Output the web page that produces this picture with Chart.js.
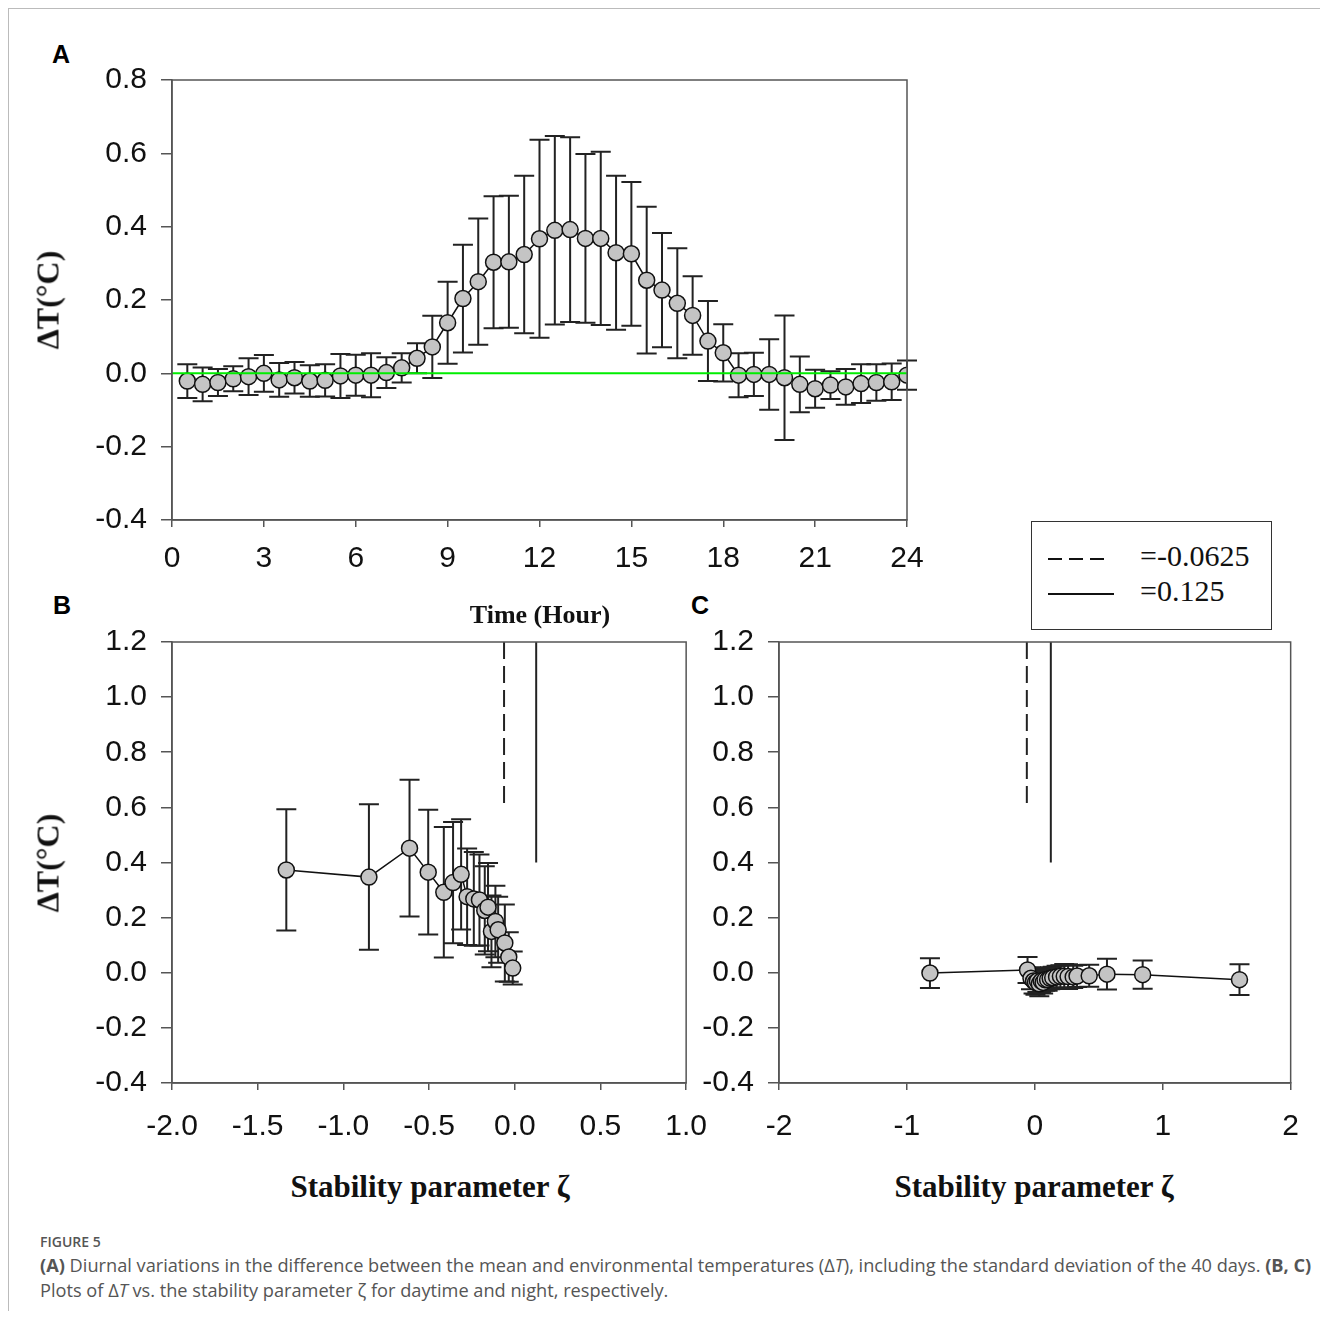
<!DOCTYPE html>
<html lang="en">
<head>
<meta charset="UTF-8">
<title>Figure 5</title>
<script src="https://cdn.jsdelivr.net/npm/chart.js"></script>
<style>
  body { margin: 0; background: #fff; width: 1320px; height: 1318px; position: relative; overflow: hidden; }
  .frame { position: absolute; left: 8px; top: 8px; width: 1320px; height: 1302px; border-top: 1.5px solid #bbb; border-left: 1.5px solid #bbb; }
  canvas { position: absolute; }
  .lbl { position: absolute; font-family: "Liberation Sans", Arial, sans-serif; font-weight: bold; font-size: 25px; color: #000; }
  .ttl { position: absolute; font-family: "Liberation Serif", "Times New Roman", serif; font-weight: bold; color: #111; white-space: nowrap; transform: translate(-50%, -50%); }
  .rot { transform: translate(-50%, -50%) rotate(-90deg); }
  .legend { position: absolute; left: 1031px; top: 521px; width: 239px; height: 107px; border: 1.5px solid #333; background: #fff; }
  .legend span { position: absolute; left: 108px; font-family: "Liberation Serif", "Times New Roman", serif; font-size: 30px; color: #111; }
  .caption { position: absolute; left: 40px; top: 1232px; width: 1280px; font-family: "Open Sans", "Noto Sans", sans-serif; color: #555; }
  .caption .fig { font-size: 14px; font-weight: 600; }
  .caption .txt { font-size: 18.2px; line-height: 25px; margin-top: 2px; white-space: nowrap; }
</style>
</head>
<body>
<div class="frame"></div>

<div class="lbl" style="left:52px; top:40px;">A</div>
<div class="lbl" style="left:53px; top:591px;">B</div>
<div class="lbl" style="left:691px; top:591px;">C</div>

<canvas id="chartA" width="880" height="542" style="left:60px; top:48px;"></canvas>
<canvas id="chartB" width="666" height="543" style="left:60px; top:610px;"></canvas>
<canvas id="chartC" width="628" height="543" style="left:690px; top:610px;"></canvas>

<div class="ttl rot" style="left:48px; top:300px; font-size:32px;">ΔT(°C)</div>
<div class="ttl rot" style="left:48px; top:863px; font-size:32px;">ΔT(°C)</div>
<div class="ttl" style="left:540px; top:615px; font-size:26px;">Time (Hour)</div>
<div class="ttl" style="left:430px; top:1187px; font-size:31px;">Stability parameter ζ</div>
<div class="ttl" style="left:1034px; top:1187px; font-size:31px;">Stability parameter ζ</div>

<div class="legend">
  <svg width="239" height="107" style="position:absolute; left:0; top:0;">
    <line x1="16" y1="37" x2="72" y2="37" stroke="#111" stroke-width="2" stroke-dasharray="14,7"/>
    <line x1="16" y1="72" x2="82" y2="72" stroke="#111" stroke-width="2"/>
  </svg>
  <span style="top:17px;">=-0.0625</span>
  <span style="top:52px;">=0.125</span>
</div>

<div class="caption">
  <div class="fig">FIGURE 5</div>
  <div class="txt"><b>(A)</b> Diurnal variations in the difference between the mean and environmental temperatures (Δ<i>T</i>), including the standard deviation of the 40 days. <b>(B, C)</b><br>Plots of Δ<i>T</i> vs. the stability parameter ζ for daytime and night, respectively.</div>
</div>

<script>
  // panel A: diurnal course, every half hour
  const hours = [0.5, 1, 1.5, 2, 2.5, 3, 3.5, 4, 4.5, 5, 5.5, 6, 6.5, 7, 7.5, 8,
    8.5, 9, 9.5, 10, 10.5, 11, 11.5, 12, 12.5, 13, 13.5, 14, 14.5, 15, 15.5, 16,
    16.5, 17, 17.5, 18, 18.5, 19, 19.5, 20, 20.5, 21, 21.5, 22, 22.5, 23, 23.5, 24];
  const dtA = [-0.021, -0.030, -0.025, -0.015, -0.009, 0.000, -0.018, -0.012, -0.021, -0.019, -0.007, -0.005,
    -0.005, 0.002, 0.015, 0.041, 0.072, 0.138, 0.204, 0.250, 0.303, 0.304, 0.324, 0.367,
    0.390, 0.392, 0.368, 0.368, 0.329, 0.326, 0.254, 0.227, 0.191, 0.158, 0.088, 0.056,
    -0.005, -0.003, -0.003, -0.012, -0.030, -0.042, -0.032, -0.037, -0.028, -0.025, -0.023, -0.005];
  const sdA = [0.046, 0.046, 0.037, 0.034, 0.050, 0.050, 0.046, 0.043, 0.043, 0.044, 0.060, 0.056,
    0.060, 0.042, 0.040, 0.041, 0.085, 0.112, 0.147, 0.172, 0.180, 0.180, 0.215, 0.270,
    0.257, 0.252, 0.230, 0.236, 0.210, 0.196, 0.200, 0.156, 0.150, 0.107, 0.109, 0.078,
    0.060, 0.059, 0.096, 0.170, 0.076, 0.052, 0.038, 0.049, 0.053, 0.050, 0.050, 0.040];

  // panel B: daytime
  const zetaB = [-1.333, -0.851, -0.614, -0.505, -0.414, -0.360, -0.313, -0.278, -0.239,
    -0.206, -0.175, -0.156, -0.136, -0.113, -0.097, -0.058, -0.035, -0.012];
  const dtB = [0.373, 0.347, 0.452, 0.365, 0.292, 0.327, 0.357, 0.276, 0.268,
    0.264, 0.226, 0.238, 0.150, 0.186, 0.156, 0.108, 0.057, 0.017];
  const sdB = [0.220, 0.264, 0.248, 0.226, 0.237, 0.220, 0.200, 0.175, 0.170,
    0.165, 0.160, 0.160, 0.130, 0.130, 0.120, 0.140, 0.090, 0.060];

  // panel C: night
  const zetaC = [-0.82, -0.057, -0.03, -0.01, 0.005, 0.02, 0.035, 0.05, 0.065, 0.08, 0.10, 0.12,
    0.14, 0.17, 0.20, 0.23, 0.26, 0.30, 0.33, 0.425, 0.564, 0.843, 1.60];
  const dtC = [-0.001, 0.010, -0.020, -0.030, -0.035, -0.030, -0.040, -0.030, -0.035, -0.025, -0.025, -0.020,
    -0.018, -0.015, -0.013, -0.013, -0.014, -0.015, -0.012, -0.011, -0.005, -0.007, -0.025];
  const sdC = [0.054, 0.047, 0.040, 0.045, 0.045, 0.040, 0.045, 0.040, 0.040, 0.040, 0.040, 0.040,
    0.040, 0.040, 0.040, 0.045, 0.045, 0.040, 0.040, 0.040, 0.056, 0.051, 0.056];

  // critical stability values shown as vertical lines in B and C
  const zetaDash = -0.0625, dashTop = 1.2, dashBottom = 0.6;
  const zetaSolid = 0.125, solidTop = 1.2, solidBottom = 0.4;

  const tickFont = { family: "'Liberation Sans', Arial, sans-serif", size: 30 };
  const axisColor = '#555';

  const errorBars = {
    id: 'errorBars',
    beforeDatasetsDraw(chart) {
      const { ctx, scales: { x, y } } = chart;
      chart.data.datasets.forEach(ds => {
        if (!ds.errors) return;
        ctx.save();
        ctx.strokeStyle = '#222';
        ctx.lineWidth = 2;
        ds.data.forEach((p, i) => {
          const e = ds.errors[i];
          const px = x.getPixelForValue(p.x);
          const top = y.getPixelForValue(p.y + e);
          const bot = y.getPixelForValue(p.y - e);
          ctx.beginPath();
          ctx.moveTo(px, top); ctx.lineTo(px, bot);
          ctx.moveTo(px - 10, top); ctx.lineTo(px + 10, top);
          ctx.moveTo(px - 10, bot); ctx.lineTo(px + 10, bot);
          ctx.stroke();
        });
        ctx.restore();
      });
    }
  };

  const boxFrame = {
    id: 'boxFrame',
    afterDraw(chart) {
      const { ctx, chartArea: a } = chart;
      ctx.save();
      ctx.strokeStyle = axisColor;
      ctx.lineWidth = 1.5;
      ctx.strokeRect(a.left, a.top, a.right - a.left, a.bottom - a.top);
      ctx.restore();
    }
  };

  function fmt1(v) {
    return Math.abs(v) < 1e-9 ? '0.0' : v.toFixed(1);
  }

  function pairs(xs, ys) {
    return xs.map((v, i) => ({ x: v, y: ys[i] }));
  }

  function seriesDataset(xs, ys, errs) {
    return {
      data: pairs(xs, ys),
      errors: errs,
      showLine: true,
      borderColor: '#111',
      borderWidth: 1.5,
      pointRadius: 8,
      pointBackgroundColor: '#c4c4c4',
      pointBorderColor: '#111',
      pointBorderWidth: 1.5,
      order: 1
    };
  }

  function axis(min, max, step, cb, tickLen, pad, fitFn) {
    return {
      type: 'linear',
      min: min,
      max: max,
      ticks: { stepSize: step, font: tickFont, color: '#111', padding: pad, callback: cb, maxRotation: 0, autoSkip: false },
      grid: { drawOnChartArea: false, drawTicks: true, tickLength: tickLen, color: axisColor, lineWidth: 1.5 },
      border: { color: axisColor, width: 1.5 },
      afterFit: fitFn
    };
  }

  function baseOptions(xAxis, yAxis, pad) {
    return {
      responsive: false,
      animation: false,
      layout: { padding: pad },
      plugins: { legend: { display: false }, tooltip: { enabled: false } },
      scales: { x: xAxis, y: yAxis }
    };
  }

  new Chart(document.getElementById('chartA'), {
    type: 'scatter',
    data: {
      datasets: [
        { data: [{ x: 0, y: 0 }, { x: 24, y: 0 }], showLine: true, borderColor: '#00ee00', borderWidth: 2, pointRadius: 0, order: 0 },
        seriesDataset(hours, dtA, sdA)
      ]
    },
    options: baseOptions(
      axis(0, 24, 3, v => String(v), 7, 14, s => { s.height = 70; }),
      axis(-0.4, 0.8, 0.2, fmt1, 11, 14, s => { s.width = 112; }),
      { top: 0, right: 33, left: 0, bottom: 0 }
    ),
    plugins: [errorBars, boxFrame]
  });

  function refLines() {
    return [
      { data: [{ x: zetaDash, y: dashTop }, { x: zetaDash, y: dashBottom }], showLine: true, borderColor: '#222', borderWidth: 2, borderDash: [17, 7], pointRadius: 0, order: 0 },
      { data: [{ x: zetaSolid, y: solidTop }, { x: zetaSolid, y: solidBottom }], showLine: true, borderColor: '#222', borderWidth: 2, pointRadius: 0, order: 0 }
    ];
  }

  new Chart(document.getElementById('chartB'), {
    type: 'scatter',
    data: { datasets: [...refLines(), seriesDataset(zetaB, dtB, sdB)] },
    options: baseOptions(
      axis(-2, 1, 0.5, fmt1, 7, 19, s => { s.height = 70; }),
      axis(-0.4, 1.2, 0.2, fmt1, 11, 14, s => { s.width = 112; }),
      { top: 0, right: 30, left: 0, bottom: 0 }
    ),
    plugins: [errorBars, boxFrame]
  });

  new Chart(document.getElementById('chartC'), {
    type: 'scatter',
    data: { datasets: [...refLines(), seriesDataset(zetaC, dtC, sdC)] },
    options: baseOptions(
      axis(-2, 2, 1, v => String(v), 7, 19, s => { s.height = 70; }),
      axis(-0.4, 1.2, 0.2, fmt1, 11, 14, s => { s.width = 89; }),
      { top: 0, right: 25, left: 0, bottom: 0 }
    ),
    plugins: [errorBars, boxFrame]
  });
</script>
</body>
</html>
